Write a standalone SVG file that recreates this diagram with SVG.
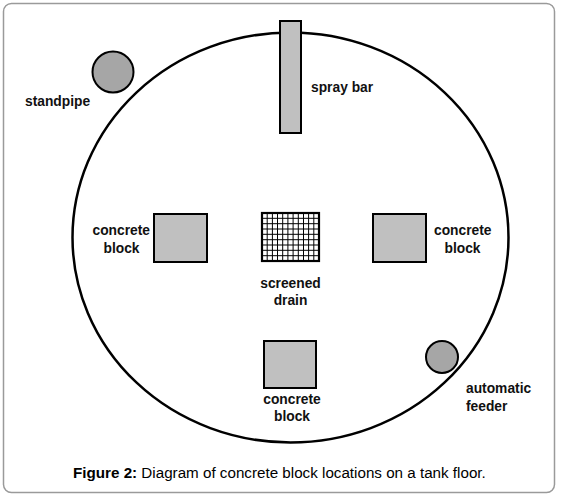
<svg xmlns="http://www.w3.org/2000/svg" width="561" height="497" viewBox="0 0 561 497">
<style>
.lbl{font-family:"Liberation Sans",Arial,sans-serif;font-weight:bold;font-size:13.8px;fill:#111}
.blk{fill:#c0c0c0;stroke:#000;stroke-width:2}
.pipe{fill:#a6a6a6;stroke:#000;stroke-width:2}
.grid{stroke:#000;stroke-width:1}
</style>
<rect x="3.5" y="3.5" width="551" height="489" rx="8" fill="#fff" stroke="#9a9a9a" stroke-width="1.5"/>
<g id="tank"><ellipse cx="290.5" cy="237.5" rx="218" ry="205" fill="none" stroke="#000" stroke-width="2.5"/></g>
<g id="spray-bar">
<rect x="280" y="21" width="21" height="112" class="blk"/>
<text x="311" y="92" class="lbl">spray bar</text>
</g>
<g id="standpipe">
<circle cx="113" cy="72" r="20.5" class="pipe"/>
<text x="25" y="106" class="lbl">standpipe</text>
</g>
<g id="block-left">
<rect x="154" y="214" width="53" height="48" class="blk"/>
<text x="150" y="235" class="lbl" text-anchor="end">concrete</text>
<text x="121.5" y="253" class="lbl" text-anchor="middle">block</text>
</g>
<g id="block-right">
<rect x="373" y="214" width="53" height="48" class="blk"/>
<text x="434" y="235" class="lbl">concrete</text>
<text x="462.5" y="253" class="lbl" text-anchor="middle">block</text>
</g>
<g id="screened-drain">
<rect x="262" y="213" width="57" height="48" fill="#fff" stroke="#000" stroke-width="2.2"/>
<path class="grid" d="M267.2 213V261M272.4 213V261M277.5 213V261M282.7 213V261M287.9 213V261M293.1 213V261M298.3 213V261M303.5 213V261M308.6 213V261M313.8 213V261M262 218.3H319M262 223.7H319M262 229H319M262 234.3H319M262 239.7H319M262 245H319M262 250.3H319M262 255.7H319"/>
<text x="290.5" y="288" class="lbl" text-anchor="middle">screened</text>
<text x="290.5" y="305" class="lbl" text-anchor="middle">drain</text>
</g>
<g id="block-bottom">
<rect x="264" y="341" width="52" height="47" class="blk"/>
<text x="292" y="404" class="lbl" text-anchor="middle">concrete</text>
<text x="292" y="421" class="lbl" text-anchor="middle">block</text>
</g>
<g id="automatic-feeder">
<circle cx="442" cy="357" r="16" class="pipe"/>
<text x="466" y="393" class="lbl">automatic</text>
<text x="466" y="411" class="lbl">feeder</text>
</g>
<g id="connectors"></g>
<text x="73" y="478" font-family="Liberation Sans,Arial,sans-serif" font-size="15.2" fill="#000"><tspan font-weight="bold">Figure 2:</tspan> Diagram of concrete block locations on a tank floor.</text>
</svg>
